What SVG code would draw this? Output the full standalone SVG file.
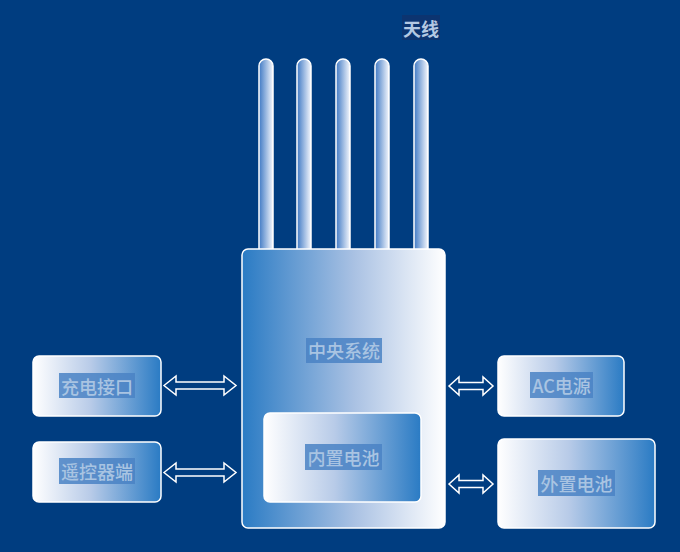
<svg xmlns="http://www.w3.org/2000/svg" width="680" height="552" viewBox="0 0 680 552">
<defs>
<linearGradient id="gMain" x1="0" y1="0" x2="1" y2="0">
<stop offset="0" stop-color="#2a7bc4"/>
<stop offset="0.55" stop-color="#a9c1e3"/>
<stop offset="1" stop-color="#ffffff"/>
</linearGradient>
<linearGradient id="gSide" x1="0" y1="0" x2="1" y2="0">
<stop offset="0" stop-color="#ffffff"/>
<stop offset="0.45" stop-color="#b8cbe8"/>
<stop offset="1" stop-color="#2a7bc4"/>
</linearGradient>
<linearGradient id="gRod" x1="0" y1="0" x2="1" y2="0">
<stop offset="0" stop-color="#3f79c4"/>
<stop offset="1" stop-color="#f4f7fd"/>
</linearGradient>
<style>
.box{stroke:#ffffff;stroke-width:1.5}
.rod{fill:url(#gRod);stroke:#ffffff;stroke-width:1.5}
.lblbg{fill:#4a82c4;opacity:0.85}
.lbl{font-family:"Noto Sans CJK SC","Noto Sans",sans-serif;font-size:18px;font-weight:500;fill:#a9c4e2;text-anchor:middle;dominant-baseline:central}
.arr{fill:#003d80;stroke:#ffffff;stroke-width:1.5;stroke-linejoin:miter}
</style>
</defs>
<rect x="0" y="0" width="680" height="552" fill="#003d80"/>

<g id="antennas">
<path class="rod" d="M259,250 V66 a7,7 0 0 1 14,0 V250"/>
<path class="rod" d="M297,250 V66 a7,7 0 0 1 14,0 V250"/>
<path class="rod" d="M336,250 V66 a7,7 0 0 1 14,0 V250"/>
<path class="rod" d="M375,250 V66 a7,7 0 0 1 14,0 V250"/>
<path class="rod" d="M414,250 V66 a7,7 0 0 1 14,0 V250"/>
</g>
<g id="label-antenna">
<rect x="402" y="15" width="38" height="25" fill="#0c3470"/>
<text x="421" y="28" class="lbl" style="fill:#b4c8e2;font-weight:bold">天线</text>
</g>

<g id="central">
<rect class="box" x="242" y="249" width="203" height="279" rx="6" fill="url(#gMain)"/>
<rect class="lblbg" x="306" y="338" width="76" height="25"/>
<text x="344" y="350" class="lbl">中央系统</text>
</g>

<g id="internal-battery">
<rect class="box" x="264" y="413" width="157" height="89" rx="6" fill="url(#gSide)"/>
<rect class="lblbg" x="305" y="444" width="77" height="26"/>
<text x="343.5" y="457" class="lbl">内置电池</text>
</g>

<g id="charge-port">
<rect class="box" x="33" y="356" width="128" height="60" rx="6" fill="url(#gSide)"/>
<rect class="lblbg" x="59" y="373" width="76" height="25"/>
<text x="97" y="385.5" class="lbl">充电接口</text>
</g>

<g id="remote">
<rect class="box" x="33" y="442" width="128" height="60" rx="6" fill="url(#gSide)"/>
<rect class="lblbg" x="59" y="458" width="76" height="26"/>
<text x="97" y="471" class="lbl">遥控器端</text>
</g>

<g id="ac-power">
<rect class="box" x="498" y="356" width="126" height="60" rx="6" fill="url(#gSide)"/>
<rect class="lblbg" x="530" y="372" width="63" height="26"/>
<text x="561.5" y="385" class="lbl">AC电源</text>
</g>

<g id="external-battery">
<rect class="box" x="498" y="439" width="157" height="89" rx="6" fill="url(#gSide)"/>
<rect class="lblbg" x="538" y="470" width="77" height="26"/>
<text x="576.5" y="483" class="lbl">外置电池</text>
</g>

<g id="connectors">
<path class="arr" d="M164,385.5 L176,376 V382 H224 V376 L236,385.5 L224,395 V389 H176 V395 Z"/>
<path class="arr" d="M164,472.5 L176,463 V469 H224 V463 L236,472.5 L224,482 V476 H176 V482 Z"/>
<path class="arr" d="M449,386 L459,377 V382.5 H483 V377 L493,386 L483,395 V389.5 H459 V395 Z"/>
<path class="arr" d="M449,484 L459,475 V480.5 H483 V475 L493,484 L483,493 V487.5 H459 V493 Z"/>
</g>
</svg>
